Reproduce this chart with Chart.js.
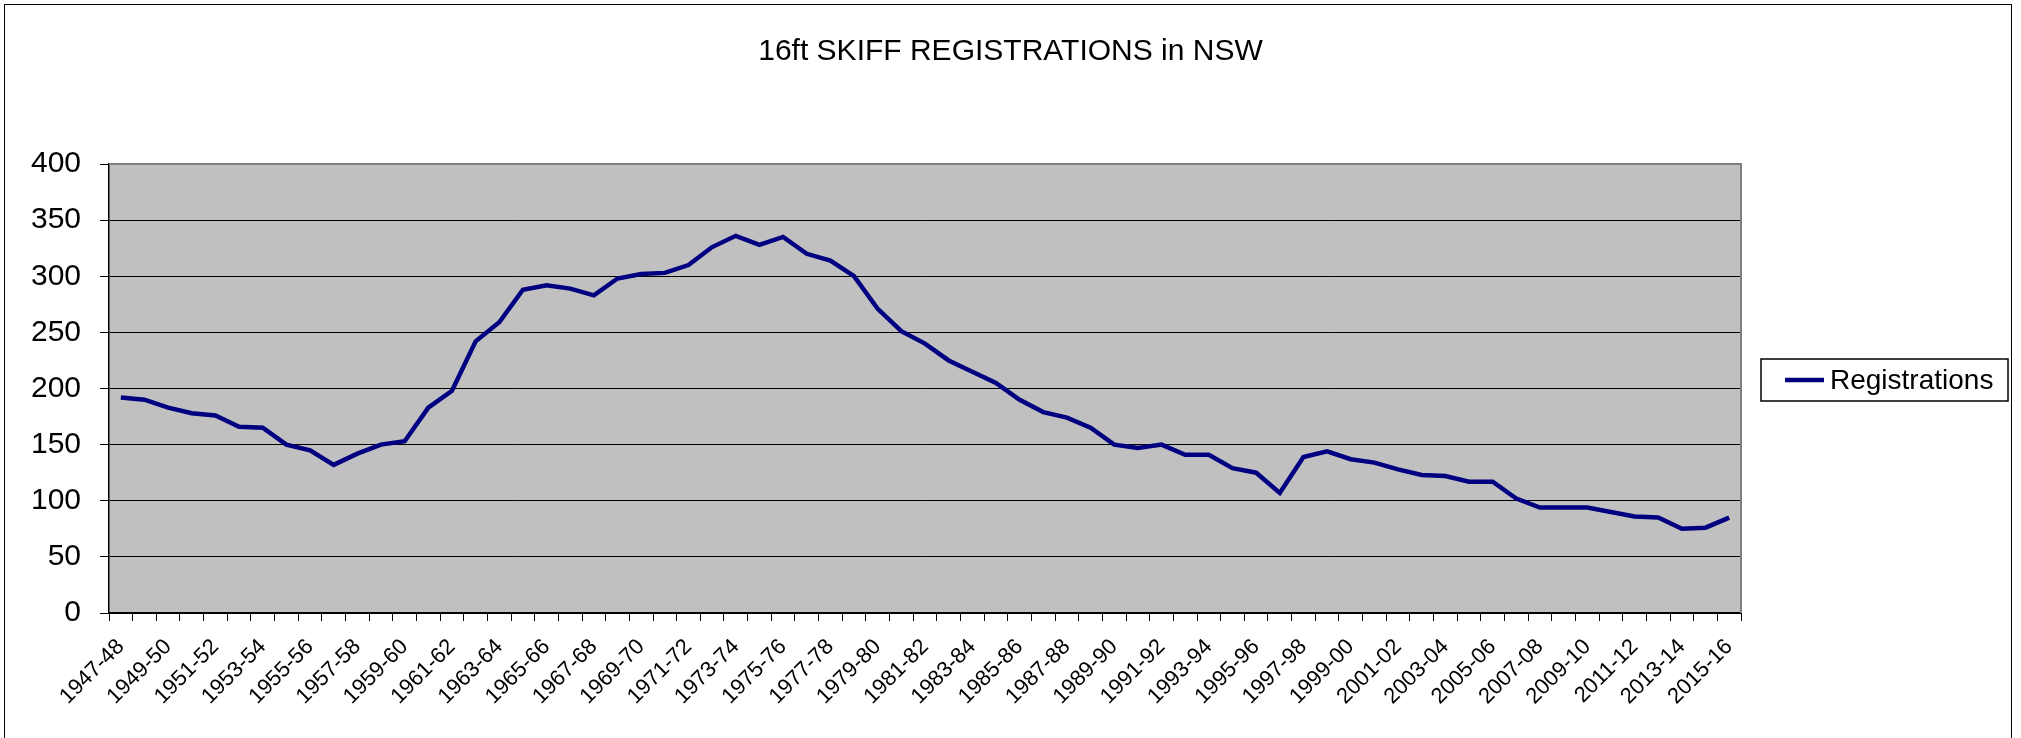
<!DOCTYPE html>
<html>
<head>
<meta charset="utf-8">
<script src="https://cdn.jsdelivr.net/npm/chart.js@4.4.1/dist/chart.umd.min.js"></script>
<style>
  html, body { margin: 0; padding: 0; background: #fff; overflow: hidden; }
  #wrap { position: relative; width: 2021px; height: 738px; }
  #frame { position: absolute; left: 4px; top: 4px; width: 2008px; height: 800px; border: 1px solid #000; box-sizing: border-box; pointer-events: none; }
</style>
</head>
<body>
<div id="wrap">
  <canvas id="skiffChart" width="2021" height="738"></canvas>
  <div id="frame"></div>
</div>
<script>
var seasons = [
    '1947-48', '1948-49', '1949-50', '1950-51', '1951-52', '1952-53', '1953-54', '1954-55',
    '1955-56', '1956-57', '1957-58', '1958-59', '1959-60', '1960-61', '1961-62', '1962-63',
    '1963-64', '1964-65', '1965-66', '1966-67', '1967-68', '1968-69', '1969-70', '1970-71',
    '1971-72', '1972-73', '1973-74', '1974-75', '1975-76', '1976-77', '1977-78', '1978-79',
    '1979-80', '1980-81', '1981-82', '1982-83', '1983-84', '1984-85', '1985-86', '1986-87',
    '1987-88', '1988-89', '1989-90', '1990-91', '1991-92', '1992-93', '1993-94', '1994-95',
    '1995-96', '1996-97', '1997-98', '1998-99', '1999-00', '2000-01', '2001-02', '2002-03',
    '2003-04', '2004-05', '2005-06', '2006-07', '2007-08', '2008-09', '2009-10', '2010-11',
    '2011-12', '2012-13', '2013-14', '2014-15', '2015-16'
];

var registrations = [
    192, 190, 183, 178, 176, 166, 165, 150, 145, 132,
    142, 150, 153, 183, 198, 242, 259, 288, 292, 289,
    283, 298, 302, 303, 310, 326, 336, 328, 335, 320,
    314, 300, 271, 251, 240, 225, 215, 205, 190, 179,
    174, 165, 150, 147, 150, 141, 141, 129, 125, 107,
    139, 144, 137, 134, 128, 123, 122, 117, 117, 102,
    94, 94, 94, 90, 86, 85, 75, 76, 85
];

var yTicks = [0, 50, 100, 150, 200, 250, 300, 350, 400];

var FONT = 'Arial, "Liberation Sans", sans-serif';
var LINE_COLOR = '#000080';

// grey plot background + grey top/right edge like the old Excel chart
var plotArea = {
    id: 'plotArea',
    beforeDraw: function(chart) {
        var a = chart.chartArea, c = chart.ctx;
        c.save();
        c.fillStyle = '#C0C0C0';
        c.fillRect(a.left, a.top, a.right - a.left, a.bottom - a.top);
        c.restore();
    },
    beforeDatasetsDraw: function(chart) {
        var a = chart.chartArea, c = chart.ctx;
        c.save();
        c.strokeStyle = '#808080';
        c.lineWidth = 2;
        c.beginPath();
        c.moveTo(a.left, a.top);
        c.lineTo(a.right, a.top);
        c.lineTo(a.right, a.bottom);
        c.stroke();
        c.restore();
    }
};

// boxed legend to the right of the plot
var boxLegend = {
    id: 'boxLegend',
    afterDraw: function(chart) {
        var a = chart.chartArea, c = chart.ctx;
        var ds = chart.data.datasets[0];
        var x = a.right + 20, y = 359, w = 247, h = 42;
        c.save();
        c.fillStyle = '#fff';
        c.fillRect(x, y, w, h);
        c.strokeStyle = '#000';
        c.lineWidth = 1.5;
        c.strokeRect(x, y, w, h);
        c.strokeStyle = ds.borderColor;
        c.lineWidth = ds.borderWidth;
        c.beginPath();
        c.moveTo(x + 24, y + h / 2);
        c.lineTo(x + 63, y + h / 2);
        c.stroke();
        c.fillStyle = '#000';
        c.font = '28px ' + FONT;
        c.textBaseline = 'middle';
        c.fillText(ds.label, x + 69, y + h / 2 + 1);
        c.restore();
    }
};

var ctx = document.getElementById('skiffChart').getContext('2d');
var skiffChart = new Chart(ctx, {
    type: 'line',
    data: {
        labels: seasons,
        datasets: [{
            label: 'Registrations',
            data: registrations,
            borderColor: LINE_COLOR,
            backgroundColor: LINE_COLOR,
            borderWidth: 4.5,
            pointRadius: 0,
            tension: 0,
            fill: false
        }]
    },
    options: {
        responsive: false,
        animation: false,
        devicePixelRatio: 1,
        layout: { padding: 0 },
        plugins: {
            legend: { display: false },
            tooltip: { enabled: false },
            title: {
                display: true,
                text: '16ft SKIFF REGISTRATIONS in NSW',
                color: '#000',
                font: { family: FONT, size: 30, weight: 'normal', lineHeight: 1.2 },
                padding: { top: 34, bottom: 94 }
            }
        },
        scales: {
            x: {
                offset: true,
                grid: {
                    offset: true,
                    drawOnChartArea: false,
                    drawTicks: true,
                    tickLength: 8,
                    tickColor: '#000',
                    lineWidth: 1
                },
                border: { color: '#000', width: 2 },
                ticks: {
                    autoSkip: false,
                    minRotation: 45,
                    maxRotation: 45,
                    padding: 13,
                    color: '#000',
                    font: { family: FONT, size: 22 },
                    callback: function(val, i) {
                        return i % 2 === 0 ? seasons[i] : '';
                    }
                },
                afterFit: function(scale) { scale.height = 125; }
            },
            y: {
                min: yTicks[0],
                max: yTicks[yTicks.length - 1],
                afterBuildTicks: function(scale) {
                    scale.ticks = yTicks.map(function(v) { return { value: v }; });
                },
                grid: {
                    color: function(c) { return c.tick && c.tick.value === 400 ? '#808080' : '#000'; },
                    tickColor: '#000',
                    lineWidth: 1,
                    tickLength: 9
                },
                border: { color: '#000', width: 1.5 },
                ticks: {
                    padding: 19,
                    color: '#000',
                    font: { family: FONT, size: 30 }
                },
                afterFit: function(scale) { scale.width = 109; }
            },
            // empty right-hand axis that only reserves room for the legend
            legendSpace: {
                type: 'linear',
                position: 'right',
                display: true,
                grid: { display: false },
                border: { display: false },
                ticks: { display: false },
                afterFit: function(scale) { scale.width = 280; }
            }
        }
    },
    plugins: [plotArea, boxLegend]
});
</script>
</body>
</html>
